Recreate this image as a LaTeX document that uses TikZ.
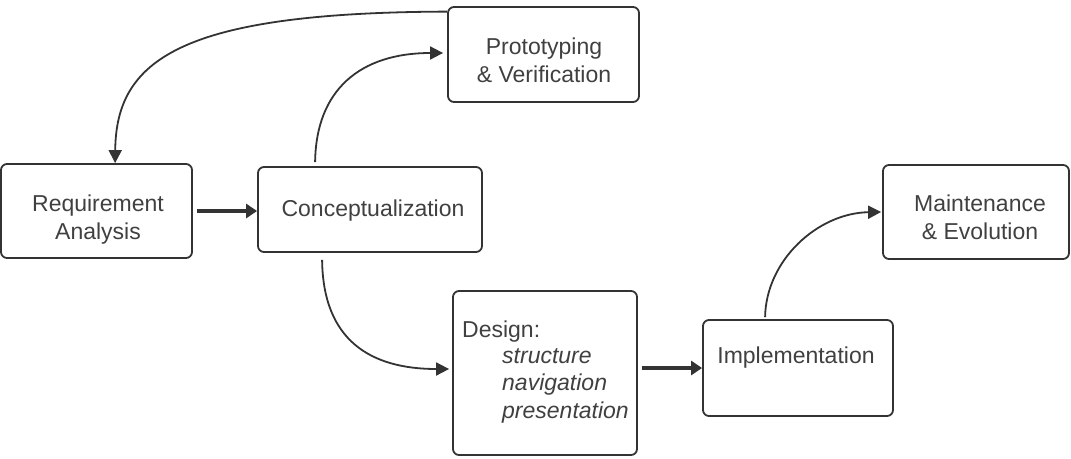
\documentclass[tikz,border=0pt]{standalone}
\usepackage{fontspec}
\setmainfont{Liberation Sans}
\usetikzlibrary{arrows.meta}
\definecolor{ln}{HTML}{333333}
\definecolor{tx}{HTML}{404040}
\begin{document}
\begin{tikzpicture}[x=1pt,y=-1pt,
  box/.style={draw=ln, line width=1.8pt, rounded corners=6pt, inner sep=0pt},
  lbl/.style={text=tx, font=\fontsize{23}{27.4}\selectfont, inner sep=0pt, align=center, anchor=base},
  lbll/.style={text=tx, font=\fontsize{23}{27.2}\selectfont, inner sep=0pt, align=left, anchor=base west},
  flow/.style={draw=ln, line width=1.8pt, -{Triangle[length=13pt,width=13pt]}},
  bigflow/.style={draw=ln, line width=3.6pt, -{Triangle[length=11pt,width=14pt]}}]
\useasboundingbox (0,0) rectangle (1071,458);

% boxes
\node[box, minimum width=191pt, minimum height=94pt] (req) at (96.5,211) {};
\node[box, minimum width=224pt, minimum height=85pt] (con) at (370,209.5) {};
\node[box, minimum width=191pt, minimum height=95pt] (pro) at (543.5,54.5) {};
\node[box, minimum width=186pt, minimum height=94pt] (mai) at (976,212) {};
\node[box, minimum width=184pt, minimum height=164pt] (des) at (545,373) {};
\node[box, minimum width=190pt, minimum height=96pt] (imp) at (798,368) {};

% texts (base anchor = baseline of the last line)
\node[lbl] (reqt) at (98,239) {Requirement\\Analysis};
\node[lbl] (cont) at (373,216) {Conceptualization};
\node[lbl] (prot) at (544,82) {Prototyping\\\& Verification};
\node[lbl] (mait) at (980,239) {Maintenance\\\& Evolution};
\node[lbl] (impt) at (796,363) {Implementation};
\node[lbll] (dest) at (462,337) {Design:};
\node[lbll] (desi) at (502,418) {\itshape structure\\\itshape navigation\\\itshape presentation};

% straight thick arrows
\draw[bigflow, shorten <=4pt] (req.east) -- (req.east -| con.west);
\draw[bigflow, shorten <=4pt] (des.east |- imp.west) -- (imp.west);

% curved arrows
\draw[flow] ([yshift=-5.5pt]pro.north west) .. controls (180,12.5) and (116,60) .. ([xshift=115pt]req.north west);
\draw[flow] ([xshift=58pt,yshift=4pt]con.north west) .. controls (316,90) and (360,53) .. ([xshift=-4pt,yshift=1.5pt]pro.west);
\draw[flow] ([xshift=65pt,yshift=-7pt]con.south west) .. controls (323,340) and (370,369) .. ([xshift=-3pt,yshift=4pt]des.west);
\draw[flow] ([xshift=63pt,yshift=2pt]imp.north west) .. controls (766,260) and (818,213) .. ([xshift=-1pt]mai.west);
\end{tikzpicture}
\end{document}
